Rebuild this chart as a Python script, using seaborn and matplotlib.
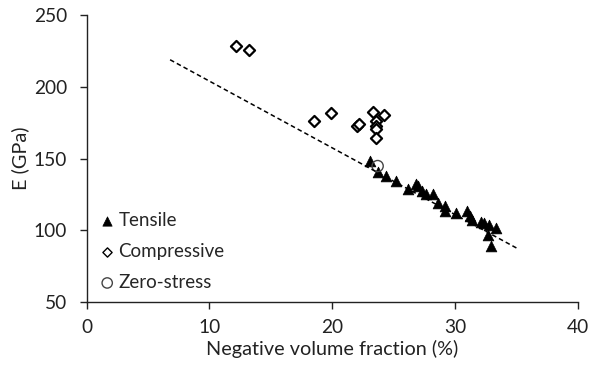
import numpy as np
import pandas as pd
import matplotlib
matplotlib.use("Agg")
import matplotlib.pyplot as plt
import seaborn as sns

# Tensile points (negative volume fraction %, E in GPa)
tensile_x = [23.1, 23.7, 24.4, 25.2, 26.2, 26.8, 27.0, 27.3, 27.6, 28.2, 28.6,
             29.2, 29.2, 30.1, 31.0, 31.2, 31.4, 32.1, 32.4, 32.8, 33.3, 32.7, 32.9]
tensile_y = [148, 141, 137.8, 134.3, 128.5, 132, 130.8, 127.3, 125.4, 125, 119,
             116.8, 113.3, 112, 113.3, 109.7, 107.4, 106, 105, 104, 101.5, 97, 89]

compressive_x = [12.2, 13.2, 18.5, 19.9, 22.0, 22.2, 23.3, 24.2, 23.6, 23.6, 23.6, 23.6]
compressive_y = [228.5, 226, 175.9, 181.5, 172.5, 174, 182.7, 180.6, 176, 173, 170.5, 164.7]

zero_x = [23.7]
zero_y = [144.8]

# linear trend line
fit_slope = -4.65
fit_intercept = 250.5
fit_range = [6.8, 35.0]

df = pd.DataFrame({
    "x": tensile_x + compressive_x + zero_x,
    "y": tensile_y + compressive_y + zero_y,
    "kind": ["Tensile"] * len(tensile_x) + ["Compressive"] * len(compressive_x)
            + ["Zero-stress"] * len(zero_x),
})

sns.set_style("ticks")
plt.rcParams["font.family"] = ["Lato", "DejaVu Sans"]

fig = plt.figure(figsize=(5.89, 3.68), dpi=100)
ax = fig.add_axes([0.147, 0.179, 0.834, 0.780])

fit_x = np.array(fit_range)
fit_y = fit_slope * fit_x + fit_intercept
sns.lineplot(x=fit_x, y=fit_y, ax=ax, color="black", linestyle=(0, (3, 2)),
             linewidth=1.1, legend=False)

sns.scatterplot(data=df[df.kind == "Tensile"], x="x", y="y", ax=ax, marker="^",
                s=60, color="black", edgecolor="black", linewidth=0.5, label="Tensile")
sns.scatterplot(data=df[df.kind == "Compressive"], x="x", y="y", ax=ax, marker="D",
                s=32, facecolor="white", edgecolor="black", linewidth=1.6,
                label="Compressive")
sns.scatterplot(data=df[df.kind == "Zero-stress"], x="x", y="y", ax=ax, marker="o",
                s=65, facecolor="none", edgecolor="#444444", linewidth=1.0,
                label="Zero-stress")

ax.set_xlim(0, 40)
ax.set_ylim(50, 250)
ax.set_xticks([0, 10, 20, 30, 40])
ax.set_yticks([50, 100, 150, 200, 250])
ax.tick_params(labelsize=13.8, length=5, width=1, direction="out", colors="#222222")
ax.tick_params(axis="x", pad=7)
ax.tick_params(axis="y", pad=9)
ax.set_xlabel("Negative volume fraction (%)", fontsize=14.3, color="#222222", labelpad=3)
ax.set_ylabel("E (GPa)", fontsize=14.3, color="#222222", labelpad=3)
for sp in ["left", "bottom"]:
    ax.spines[sp].set_linewidth(1)
    ax.spines[sp].set_color("#222222")
sns.despine(ax=ax)

leg = ax.legend(loc="lower left", bbox_to_anchor=(0.0, 0.0), frameon=False,
                fontsize=13.5, handletextpad=0.1, labelspacing=0.75,
                handlelength=1.0, borderaxespad=0.2)
for h, sz in zip(leg.legend_handles, [45, 22, 55]):
    h.set_sizes([sz])
    if sz == 22:
        h.set_linewidth(1.0)

fig.savefig("out.png", dpi=100)
